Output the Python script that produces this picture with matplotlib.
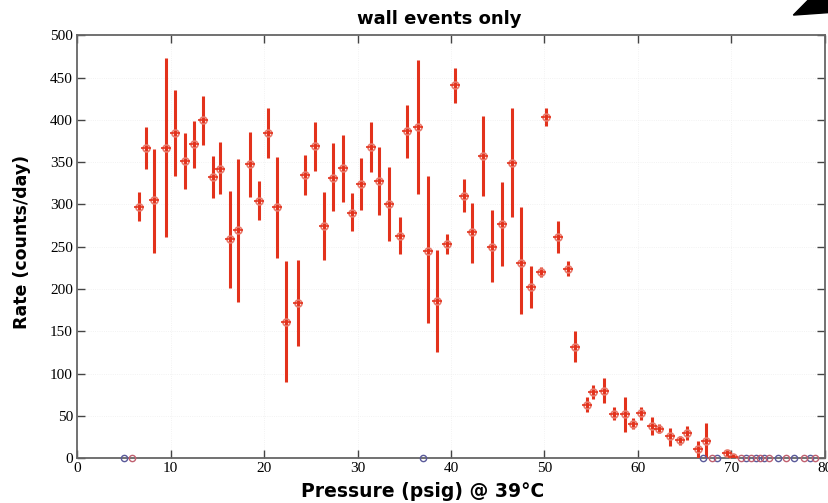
import numpy as np
import matplotlib
matplotlib.use('Agg')
import matplotlib.pyplot as plt
from matplotlib.patches import Polygon

# --- data ---
pressure = [6.6, 7.4, 8.2, 9.5, 10.5, 11.5, 12.5, 13.5, 14.5, 15.3,
            16.4, 17.2, 18.5, 19.5, 20.4, 21.4, 22.4, 23.6, 24.4, 25.4,
            26.4, 27.4, 28.5, 29.4, 30.4, 31.4, 32.3, 33.4, 34.5, 35.3,
            36.5, 37.5, 38.5, 39.6, 40.4, 41.4, 42.3, 43.4, 44.4, 45.5,
            46.5, 47.5, 48.6, 49.6, 50.2, 51.5, 52.5, 53.3, 54.6, 55.2,
            56.4, 57.4, 58.6, 59.5, 60.3, 61.5, 62.3, 63.4, 64.5, 65.3,
            66.4, 67.3, 69.5, 70.2]
rate = [297, 367, 305, 367, 384, 351, 371, 400, 332, 342,
        259, 270, 348, 304, 385, 297, 161, 183, 335, 369,
        275, 331, 343, 290, 324, 368, 328, 300, 263, 387,
        391, 245, 186, 253, 441, 310, 267, 357, 250, 277,
        349, 231, 202, 220, 403, 261, 224, 132, 63, 78,
        79, 52, 52, 41, 53, 38, 35, 26, 21, 30,
        11, 20, 6, 2]
rate_lo = [280, 342, 243, 262, 333, 318, 343, 370, 307, 312,
           201, 185, 309, 281, 355, 237, 90, 133, 311, 339,
           234, 292, 303, 268, 293, 338, 288, 257, 241, 355,
           312, 160, 126, 241, 420, 291, 231, 310, 208, 227,
           285, 170, 177, 214, 393, 243, 215, 114, 55, 70,
           65, 45, 31, 35, 45, 27, 30, 15, 16, 22,
           0, 0, 2, 0]
rate_hi = [315, 391, 365, 473, 435, 384, 399, 428, 357, 374,
           316, 354, 386, 328, 414, 356, 233, 234, 359, 398,
           315, 373, 382, 313, 355, 398, 368, 344, 285, 418,
           471, 333, 246, 265, 461, 330, 302, 405, 293, 327,
           414, 297, 227, 226, 414, 280, 233, 150, 72, 87,
           95, 60, 72, 47, 61, 49, 41, 36, 26, 38,
           20, 42, 10, 5]

# empty bins (zero counts)
zero_blue = [5.0, 37.0, 67.0, 68.5, 71.6, 72.6, 73.5, 75.0, 76.7, 78.4]
zero_red = [5.9, 67.9, 71.0, 72.1, 73.1, 74.0, 75.8, 77.8, 78.9]

x_ticks = list(range(0, 81, 10))
y_ticks = list(range(0, 501, 50))

RED = '#e3321c'
PINK = '#e8786a'
BLUE = '#5a5a9a'

fig = plt.figure(figsize=(8.29, 5.03), dpi=100)
ax = fig.add_axes([0.093, 0.089, 0.902, 0.841])

lo = np.array(rate) - np.array(rate_lo)
hi = np.array(rate_hi) - np.array(rate)
ax.errorbar(pressure, rate, yerr=[lo, hi], fmt='none', ecolor=RED,
            elinewidth=2.2, capsize=0, zorder=3)
ax.plot(pressure, rate, 'o', ms=5, mfc='none', mec=PINK, mew=1.2, zorder=4)
ax.plot(pressure, rate, '_', ms=7, color=RED, mew=1.2, zorder=4)

ax.plot(zero_blue, [0] * len(zero_blue), 'o', ms=4.5, mfc='none',
        mec=BLUE, mew=1.0, clip_on=False, zorder=5)
ax.plot(zero_red, [0] * len(zero_red), 'o', ms=4.5, mfc='none',
        mec='#c06070', mew=1.0, clip_on=False, zorder=5)

ax.set_xlim(0, 80)
ax.set_ylim(0, 500)
ax.set_xticks(x_ticks)
ax.set_yticks(y_ticks)
ax.tick_params(direction='in', length=6, width=1, color='#444444',
               top=True, right=True, labelsize=11, pad=3)
for lab in ax.get_xticklabels() + ax.get_yticklabels():
    lab.set_fontfamily('Liberation Serif')
for s in ax.spines.values():
    s.set_color('#666666')
    s.set_linewidth(1.3)

ax.grid(True, color='#eeeeee', linestyle=':', linewidth=0.6)
ax.set_axisbelow(True)

fig.text(0.53, 0.963, 'wall events only', ha='center', va='center',
         fontsize=13, fontweight='bold', family='DejaVu Sans')
fig.text(0.51, 0.022, 'Pressure (psig) @ 39°C', ha='center', va='center',
         fontsize=13.5, fontweight='bold', family='DejaVu Sans')
fig.text(0.026, 0.52, 'Rate (counts/day)', ha='center', va='center',
         rotation=90, fontsize=12.5, fontweight='bold', family='DejaVu Sans')

# black wedge cropped at the top right corner
fig.patches.append(Polygon([[0.957, 0.97], [0.975, 1.0], [1.0, 1.0], [1.0, 0.975]],
                           closed=True, transform=fig.transFigure,
                           color='black'))

fig.savefig('out.png', dpi=100)
